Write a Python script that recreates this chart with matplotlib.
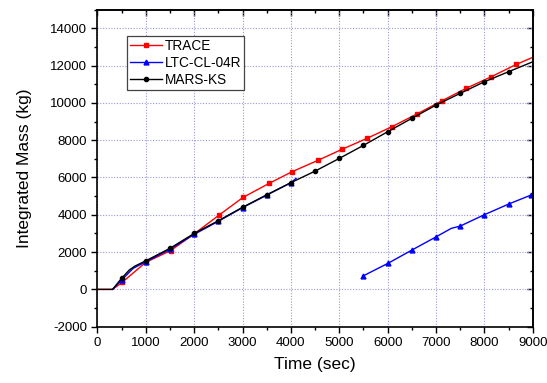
import numpy as np
import matplotlib
matplotlib.use("Agg")
import matplotlib.pyplot as plt
from matplotlib.ticker import MultipleLocator

plt.rcParams['font.family'] = ['Liberation Sans', 'DejaVu Sans']
plt.rcParams['axes.unicode_minus'] = False

# TRACE (red squares)
trace_t = [0, 314, 513, 1000, 1514, 2003, 2514, 3010, 3548, 4018, 4570, 5066,
           5576, 6087, 6604, 7121, 7625, 8142, 8659, 9000]
trace_v = [0, 0, 380, 1450, 2080, 2980, 3980, 4930, 5680, 6300, 6930, 7520,
           8100, 8720, 9400, 10110, 10780, 11400, 12060, 12440]
trace_marks = list(range(2, 19))

# LTC-CL-04R (blue triangles), gap between the two segments
ltc_t = [314, 500, 741, 1000, 1500, 2000, 2500, 3000, 3500, 4000, 4107,
         np.nan,
         5487, 6004, 6501, 7004, 7314, 7500, 7997, 8500, 8963]
ltc_v = [0, 500, 1130, 1480, 2150, 2950, 3650, 4380, 5050, 5720, 5950,
         np.nan,
         713, 1394, 2107, 2820, 3270, 3394, 4000, 4574, 5056]
ltc_marks = [1, 3, 4, 5, 6, 7, 8, 9, 12, 13, 14, 15, 17, 18, 19, 20]

# MARS-KS (black circles)
mars_t = [0, 314, 500, 658, 776, 1000, 1500, 2000, 2500, 3000, 3500, 4000,
          4500, 5000, 5500, 6000, 6500, 7000, 7500, 8000, 8500, 9000]
mars_v = [0, 0, 590, 1035, 1250, 1530, 2200, 3000, 3680, 4400, 5070, 5720,
          6340, 7020, 7720, 8450, 9170, 9880, 10510, 11130, 11670, 12200]
mars_marks = [2] + list(range(5, 21))

fig = plt.figure(figsize=(5.47, 3.83), dpi=100)
ax = fig.add_axes([0.178, 0.147, 0.796, 0.828])

ax.plot(trace_t, trace_v, color='#ff0000', lw=1.0, marker='s', ms=3,
        markevery=trace_marks, label='TRACE')
ax.plot(ltc_t, ltc_v, color='#0000ff', lw=1.0, marker='^', ms=3.5,
        markevery=ltc_marks, label='LTC-CL-04R')
ax.plot(mars_t, mars_v, color='#000000', lw=1.0, marker='o', ms=3,
        markevery=mars_marks, label='MARS-KS')

ax.set_xlim(0, 9000)
ax.set_ylim(-2000, 15000)
ax.xaxis.set_major_locator(MultipleLocator(1000))
ax.xaxis.set_minor_locator(MultipleLocator(500))
ax.yaxis.set_major_locator(MultipleLocator(2000))
ax.yaxis.set_minor_locator(MultipleLocator(1000))

ax.grid(True, which='major', color='#9a9ad8', linestyle=(0, (1, 1.5)), lw=0.8)
ax.set_axisbelow(True)

for s in ax.spines.values():
    s.set_linewidth(1.2)
ax.tick_params(which='major', direction='out', length=4.5, width=1.0,
               labelsize=9.5, colors='black', pad=3)
ax.tick_params(which='minor', direction='out', length=2.5, width=1.0)

secx = ax.secondary_xaxis('top')
secx.xaxis.set_major_locator(MultipleLocator(1000))
secx.xaxis.set_minor_locator(MultipleLocator(500))
secx.tick_params(which='major', direction='in', length=4.5, width=1.0, labeltop=False)
secx.tick_params(which='minor', direction='in', length=2.5, width=1.0)
secx.spines['top'].set_linewidth(1.2)

secy = ax.secondary_yaxis('right')
secy.yaxis.set_major_locator(MultipleLocator(2000))
secy.yaxis.set_minor_locator(MultipleLocator(1000))
secy.tick_params(which='major', direction='in', length=4.5, width=1.0, labelright=False)
secy.tick_params(which='minor', direction='in', length=2.5, width=1.0)
secy.spines['right'].set_linewidth(1.2)

ax.set_xlabel('Time (sec)', fontsize=12.5, labelpad=6)
ax.set_ylabel('Integrated Mass (kg)', fontsize=12.5, labelpad=13)

leg = ax.legend(loc='upper left', bbox_to_anchor=(0.068, 0.916),
                borderaxespad=0, fontsize=9.8, frameon=True, fancybox=False,
                edgecolor='#444444', framealpha=1, handlelength=2.4,
                labelspacing=0.22, borderpad=0.2, handletextpad=0.2)
leg.get_frame().set_linewidth(0.9)

fig.savefig('out.png', dpi=100)
